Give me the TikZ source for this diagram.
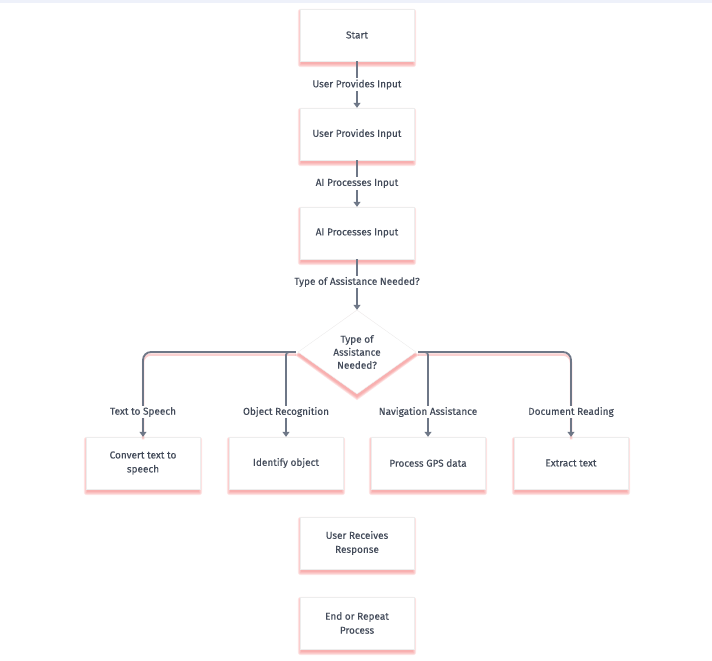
\documentclass[tikz,border=0pt]{standalone}
\usepackage{fontspec}
\setmainfont{Fira Sans}[FakeBold=0.25]
\usetikzlibrary{shapes.geometric,arrows.meta,backgrounds}
\definecolor{txt}{HTML}{434B5A}
\definecolor{ln}{HTML}{6E7787}
\definecolor{shd}{HTML}{F47A7A}
\definecolor{topband}{HTML}{EEF1FA}
\definecolor{bdr}{HTML}{EDEDED}
\tikzset{
  box/.style={draw=bdr, line width=0.4pt, fill=white, minimum width=114pt, minimum height=52pt,
    align=center, inner sep=2pt, font=\fontsize{10}{14}\selectfont, text=txt},
  dec/.style={diamond, draw=bdr, line width=0.4pt, fill=white, minimum width=118pt, minimum height=84pt,
    inner sep=0pt, align=center, font=\fontsize{10}{13}\selectfont, text=txt},
  lbl/.style={fill=white, inner sep=1.5pt, font=\fontsize{10}{12}\selectfont, text=txt},
  conn/.style={draw=ln, line width=1.8pt, -{Triangle[length=5pt,width=7pt]}},
  shline/.style={draw=shd, line width=2.5pt, opacity=0.35},
  shfill/.style={fill=shd, opacity=0.2},
}
\newcommand{\boxshadow}[1]{%
  \foreach \r in {0,1,2,3}{%
    \fill[shfill, rounded corners=\r pt] ([xshift=-\r pt+1pt, yshift=-3pt-\r pt]#1.south west) rectangle ([xshift=\r pt-1pt, yshift=-3pt+\r pt]#1.north east);
  }}
\newcommand{\decshadow}[1]{%
  \foreach \r in {0,1,2,3}{%
    \fill[shfill] ([yshift=-3pt+\r pt]#1.north) -- ([xshift=-\r pt, yshift=-3pt]#1.west) -- ([yshift=-3pt-\r pt]#1.south) -- ([xshift=\r pt, yshift=-3pt]#1.east) -- cycle;
  }}
\begin{document}
\begin{tikzpicture}[x=1pt,y=-1pt]
\useasboundingbox (0,0) rectangle (712,661);
\fill[topband] (0,0) rectangle (712,3);
% nodes
\node[box] (start) at (357,35) {Start};
\node[box] (upi) at (357,134) {User Provides Input};
\node[box] (api) at (357,233) {AI Processes Input};
\node[dec] (dec) at (357,352) {Type of\\Assistance\\Needed?};
\node[box] (b1) at (143,463) {Convert text to\\speech};
\node[box] (b2) at (286,463) {Identify object};
\node[box] (b3) at (428,463) {Process GPS data};
\node[box] (b4) at (571,463) {Extract text};
\node[box] (urr) at (357,543) {User Receives\\Response};
\node[box] (end) at (357,623) {End or Repeat\\Process};
\begin{pgfonlayer}{background}
  \boxshadow{start}\boxshadow{upi}\boxshadow{api}
  \boxshadow{b1}\boxshadow{b2}\boxshadow{b3}\boxshadow{b4}
  \boxshadow{urr}\boxshadow{end}
  \decshadow{dec}
\end{pgfonlayer}
% shadows of branch lines
\draw[shline, rounded corners=8pt] ([xshift=-2pt,yshift=-2.5pt]dec.west) -| ([yshift=-2.5pt]b1.north);
\draw[shline, rounded corners=8pt] ([xshift=2pt,yshift=-2.5pt]dec.east) -| ([yshift=-2.5pt]b4.north);
% vertical connectors
\draw[conn] (start.south) -- node[lbl] {User Provides Input} (upi.north);
\draw[conn] (upi.south) -- node[lbl] {AI Processes Input} (api.north);
\draw[conn] (api.south) -- node[lbl, pos=0.45] {Type of Assistance Needed?} (dec.north);
% branches
\coordinate (dl) at ([xshift=-2pt]dec.west);
\coordinate (dr) at ([xshift=2pt]dec.east);
\draw[conn, rounded corners=8pt] (dl) -| (b1.north);
\draw[conn, rounded corners=3pt] (dl) -| (b2.north);
\draw[conn, rounded corners=3pt] (dr) -| (b3.north);
\draw[conn, rounded corners=8pt] (dr) -| (b4.north);
\node[lbl] (l1) at (143,412) {Text to Speech};
\node[lbl] (l2) at (286,412) {Object Recognition};
\node[lbl] (l3) at (428,412) {Navigation Assistance};
\node[lbl] (l4) at (571,412) {Document Reading};
\end{tikzpicture}
\end{document}
